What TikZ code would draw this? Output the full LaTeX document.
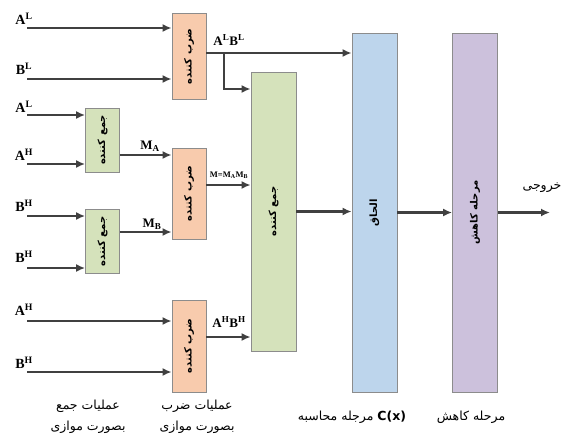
\documentclass[tikz,border=0pt]{standalone}
\usepackage{fontspec}
\setmainfont{Liberation Serif}
\newfontfamily\arabicfont[Script=Arabic]{DejaVu Sans}
\TeXXeTstate=1
\usetikzlibrary{arrows.meta,positioning}
\definecolor{ink}{HTML}{404040}
\definecolor{edge}{HTML}{8C8C8C}
\definecolor{mult}{HTML}{F8CBAD}
\definecolor{adder}{HTML}{D5E2BB}
\definecolor{concat}{HTML}{BDD5EC}
\definecolor{reduce}{HTML}{CCC1DC}
\newcommand{\vtext}[1]{\rotatebox{90}{\arabicfont\bfseries\fontsize{10}{10}\selectfont\beginR #1\endR}}

\begin{document}
\begin{tikzpicture}[x=1pt,y=-1pt,
  box/.style={draw=edge, line width=.8pt, minimum width=34pt, inner sep=0pt},
  multbox/.style={box, fill=mult, minimum height=86pt},
  addbox/.style={box, fill=adder, minimum height=64pt},
  stagebox/.style={box, minimum width=45pt, minimum height=359pt},
  inlabel/.style={font=\bfseries\fontsize{14}{14}\selectfont, inner sep=0pt},
  sig/.style={font=\bfseries\fontsize{13}{13}\selectfont, inner sep=0pt},
  farsi/.style={font=\arabicfont\fontsize{12.5}{21}\selectfont, inner sep=0pt, align=center},
  flow/.style={-{Latex[length=9pt,width=8pt]}, draw=ink, line width=2.4pt}
]
  \useasboundingbox (0,0) rectangle (570,434);

  % processing blocks
  \node[multbox] (mul1) at (189,56.5) {\vtext{ضرب کننده}};
  \node[multbox, minimum height=91pt] (mul2) at (189,193.5) {\vtext{ضرب کننده}};
  \node[multbox, minimum height=92pt] (mul3) at (189,346) {\vtext{ضرب کننده}};
  \node[addbox] (add1) at (102.5,140) {\vtext{جمع کننده}};
  \node[addbox] (add2) at (102.5,241.5) {\vtext{جمع کننده}};
  \node[box, fill=adder, minimum width=45pt, minimum height=279pt] (sum) at (273.5,211.5) {\vtext{جمع کننده}};
  \node[stagebox, fill=concat] (cat) at (374.5,212.5) {\vtext{الحاق}};
  \node[stagebox, fill=reduce] (red) at (475,212.5) {\vtext{مرحله کاهش}};

  % inputs
  \node[inlabel] (al1) at (24,19) {A\textsuperscript{L}};
  \node[inlabel] (bl1) at (24,69) {B\textsuperscript{L}};
  \node[inlabel] (al2) at (24,107) {A\textsuperscript{L}};
  \node[inlabel] (ah2) at (24,155) {A\textsuperscript{H}};
  \node[inlabel] (bh2) at (24,206) {B\textsuperscript{H}};
  \node[inlabel] (bh3) at (24,257) {B\textsuperscript{H}};
  \node[inlabel] (ah4) at (24,310) {A\textsuperscript{H}};
  \node[inlabel] (bh4) at (24,363) {B\textsuperscript{H}};
  \coordinate (al1s) at (27,28);
  \coordinate (bl1s) at (27,79);
  \coordinate (al2s) at (27,115);
  \coordinate (ah2s) at (27,164);
  \coordinate (bh2s) at (27,216);
  \coordinate (bh3s) at (27,268);
  \coordinate (ah4s) at (27,321);
  \coordinate (bh4s) at (27,372);
  \draw[flow] (al1s) -- (al1s -| mul1.west);
  \draw[flow] (bl1s) -- (bl1s -| mul1.west);
  \draw[flow] (al2s) -- (al2s -| add1.west);
  \draw[flow] (ah2s) -- (ah2s -| add1.west);
  \draw[flow] (bh2s) -- (bh2s -| add2.west);
  \draw[flow] (bh3s) -- (bh3s -| add2.west);
  \draw[flow] (ah4s) -- (ah4s -| mul3.west);
  \draw[flow] (bh4s) -- (bh4s -| mul3.west);

  % partial products and sums
  \coordinate (ma) at (119,155);
  \coordinate (mb) at (119,232);
  \coordinate (m) at (206,185);
  \coordinate (hh) at (206,337);
  \coordinate (ll) at (224,53);
  \coordinate (tap) at (224,89);
  \draw[flow] (add1.east |- ma) -- (ma -| mul2.west);
  \draw[flow] (add2.east |- mb) -- (mb -| mul2.west);
  \draw[flow] (mul2.east |- m) -- (m -| sum.west);
  \draw[flow] (mul3.east |- hh) -- (hh -| sum.west);
  \draw[flow] (mul1.east |- ll) -- (ll -| cat.west);
  \draw[flow] (ll) -- (tap) -- (tap -| sum.west);
  \node[sig] (maLbl) at (150,146) {M\textsubscript{A}};
  \node[sig] (mbLbl) at (152,224) {M\textsubscript{B}};
  \node[sig, font=\bfseries\fontsize{8.5}{8.5}\selectfont] (mLbl) at (229,175) {M=M\textsubscript{A}M\textsubscript{B}};
  \node[sig] (llLbl) at (229,40) {A\textsuperscript{L}B\textsuperscript{L}};
  \node[sig] (hhLbl) at (229,322) {A\textsuperscript{H}B\textsuperscript{H}};

  % later stages
  \coordinate (out) at (550,212.5);
  \draw[flow] (sum.east) -- (sum.east -| cat.west);
  \draw[flow] (cat.east) -- (red.west);
  \draw[flow] (red.east) -- (out);
  \node[farsi] (outLbl) at (542,188) {\beginR خروجی\endR};

  % stage captions
  \node[farsi, anchor=north] (addCap) at (88,400) {\beginR عملیات جمع\endR\\\beginR بصورت موازی\endR};
  \node[farsi, anchor=north] (mulCap) at (197,400) {\beginR عملیات ضرب\endR\\\beginR بصورت موازی\endR};
  \node[farsi] (catCap) at (352,417) {\beginR\beginL\textbf{C(x)}\endL{} مرجله محاسبه\endR};
  \node[farsi] (redCap) at (471,417) {\beginR مرحله کاهش\endR};
\end{tikzpicture}
\end{document}
